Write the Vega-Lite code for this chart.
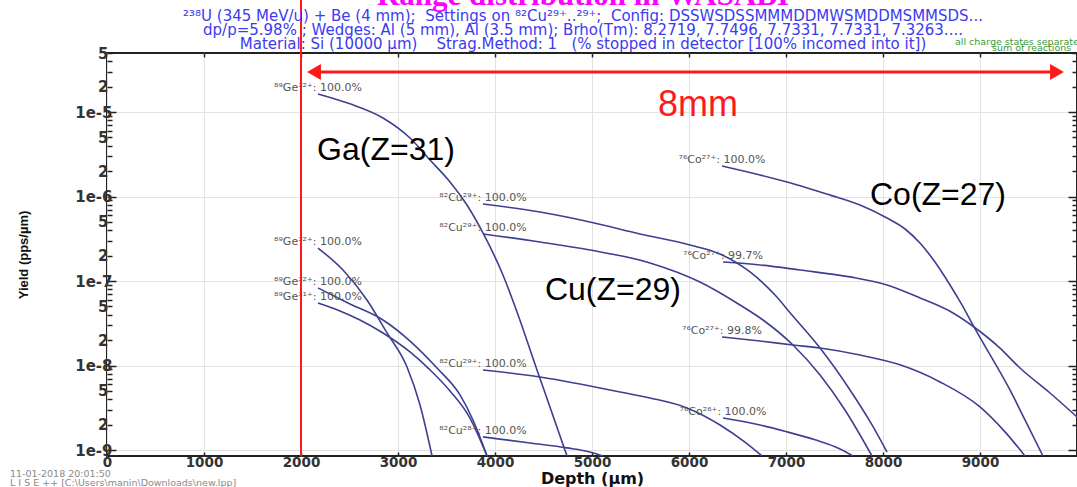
{
  "$schema": "https://vega.github.io/schema/vega-lite/v6.json",
  "width": 970,
  "height": 403,
  "autosize": {"type": "none"},
  "padding": {"left": 107, "top": 53, "right": 0, "bottom": 31},
  "background": "white",
  "title": {
    "text": "Range distribution in WASABI",
    "subtitle": [
      "²³⁸U (345 MeV/u) + Be (4 mm);\u00a0 Settings on ⁸²Cu²⁹⁺..²⁹⁺;\u00a0 Config: DSSWSDSSMMMDDMWSMDDMSMMSDS...",
      "dp/p=5.98% ; Wedges: Al (5 mm), Al (3.5 mm); Brho(Tm): 8.2719, 7.7496, 7.7331, 7.7331, 7.3263....",
      "Material: Si (10000 µm)\u00a0\u00a0\u00a0 Strag.Method: 1\u00a0\u00a0 (% stopped in detector [100% incomed into it])"
    ],
    "anchor": "middle",
    "frame": "group",
    "font": "Liberation Serif",
    "fontSize": 31,
    "fontWeight": "bold",
    "color": "#ff00ff",
    "subtitleFont": "DejaVu Sans",
    "subtitleFontSize": 15,
    "subtitleColor": "#3b3bf0",
    "subtitleLineHeight": 14,
    "subtitlePadding": -3,
    "offset": 3,
    "dx": -9,
    "dy": 80
  },
  "datasets": {
    "curves": [
      {"curve": "ge32_a", "x": 2175, "y": 1.64e-5},
      {"curve": "ge32_a", "x": 2505, "y": 1.25e-5},
      {"curve": "ge32_a", "x": 2845, "y": 8.51e-6},
      {"curve": "ge32_a", "x": 3124, "y": 4.93e-6},
      {"curve": "ge32_a", "x": 3330, "y": 2.71e-6},
      {"curve": "ge32_a", "x": 3536, "y": 1.49e-6},
      {"curve": "ge32_a", "x": 3711, "y": 7.94e-7},
      {"curve": "ge32_a", "x": 3876, "y": 3.71e-7},
      {"curve": "ge32_a", "x": 4082, "y": 1.18e-7},
      {"curve": "ge32_a", "x": 4227, "y": 4.31e-8},
      {"curve": "ge32_a", "x": 4433, "y": 8.87e-9},
      {"curve": "ge32_a", "x": 4588, "y": 2.75e-9},
      {"curve": "ge32_a", "x": 4742, "y": 8.5e-10},

      {"curve": "ge32_b", "x": 2175, "y": 2.46e-7},
      {"curve": "ge32_b", "x": 2433, "y": 1.35e-7},
      {"curve": "ge32_b", "x": 2680, "y": 5.97e-8},
      {"curve": "ge32_b", "x": 2887, "y": 2.43e-8},
      {"curve": "ge32_b", "x": 3093, "y": 9.62e-9},
      {"curve": "ge32_b", "x": 3227, "y": 3.41e-9},
      {"curve": "ge32_b", "x": 3351, "y": 8.5e-10},

      {"curve": "ge32_c", "x": 2175, "y": 8.28e-8},
      {"curve": "ge32_c", "x": 2505, "y": 5.36e-8},
      {"curve": "ge32_c", "x": 2845, "y": 3.46e-8},
      {"curve": "ge32_c", "x": 3124, "y": 1.95e-8},
      {"curve": "ge32_c", "x": 3402, "y": 9.35e-9},
      {"curve": "ge32_c", "x": 3639, "y": 4.49e-9},
      {"curve": "ge32_c", "x": 3773, "y": 2.27e-9},
      {"curve": "ge32_c", "x": 3918, "y": 8.5e-10},

      {"curve": "ge31", "x": 2175, "y": 5.5e-8},
      {"curve": "ge31", "x": 2402, "y": 4.43e-8},
      {"curve": "ge31", "x": 2608, "y": 3.46e-8},
      {"curve": "ge31", "x": 2845, "y": 2.43e-8},
      {"curve": "ge31", "x": 3124, "y": 1.45e-8},
      {"curve": "ge31", "x": 3330, "y": 8.87e-9},
      {"curve": "ge31", "x": 3536, "y": 5.0e-9},
      {"curve": "ge31", "x": 3742, "y": 2.39e-9},
      {"curve": "ge31", "x": 3918, "y": 8.5e-10},

      {"curve": "cu29_a", "x": 3876, "y": 8.17e-7},
      {"curve": "cu29_a", "x": 4464, "y": 6.56e-7},
      {"curve": "cu29_a", "x": 4979, "y": 5.0e-7},
      {"curve": "cu29_a", "x": 5495, "y": 3.61e-7},
      {"curve": "cu29_a", "x": 6010, "y": 2.67e-7},
      {"curve": "cu29_a", "x": 6320, "y": 2.09e-7},
      {"curve": "cu29_a", "x": 6629, "y": 1.28e-7},
      {"curve": "cu29_a", "x": 6887, "y": 6.84e-8},
      {"curve": "cu29_a", "x": 7062, "y": 3.96e-8},
      {"curve": "cu29_a", "x": 7351, "y": 1.61e-8},
      {"curve": "cu29_a", "x": 7660, "y": 5.14e-9},
      {"curve": "cu29_a", "x": 7887, "y": 1.98e-9},
      {"curve": "cu29_a", "x": 8041, "y": 9.48e-10},

      {"curve": "cu29_b", "x": 3876, "y": 3.61e-7},
      {"curve": "cu29_b", "x": 4464, "y": 2.9e-7},
      {"curve": "cu29_b", "x": 4979, "y": 2.33e-7},
      {"curve": "cu29_b", "x": 5598, "y": 1.64e-7},
      {"curve": "cu29_b", "x": 6113, "y": 9.75e-8},
      {"curve": "cu29_b", "x": 6526, "y": 5.21e-8},
      {"curve": "cu29_b", "x": 6763, "y": 3.46e-8},
      {"curve": "cu29_b", "x": 7072, "y": 1.75e-8},
      {"curve": "cu29_b", "x": 7351, "y": 7.73e-9},
      {"curve": "cu29_b", "x": 7608, "y": 2.98e-9},
      {"curve": "cu29_b", "x": 7887, "y": 8.5e-10},

      {"curve": "cu29_c", "x": 3876, "y": 8.87e-9},
      {"curve": "cu29_c", "x": 4464, "y": 7.33e-9},
      {"curve": "cu29_c", "x": 4979, "y": 5.73e-9},
      {"curve": "cu29_c", "x": 5289, "y": 4.86e-9},
      {"curve": "cu29_c", "x": 5598, "y": 4.13e-9},
      {"curve": "cu29_c", "x": 5979, "y": 3.15e-9},
      {"curve": "cu29_c", "x": 6320, "y": 1.98e-9},
      {"curve": "cu29_c", "x": 6577, "y": 1.24e-9},
      {"curve": "cu29_c", "x": 6753, "y": 8.5e-10},

      {"curve": "cu28", "x": 3876, "y": 1.43e-9},
      {"curve": "cu28", "x": 4361, "y": 1.21e-9},
      {"curve": "cu28", "x": 4742, "y": 1.06e-9},
      {"curve": "cu28", "x": 4979, "y": 9.48e-10},
      {"curve": "cu28", "x": 5113, "y": 8.5e-10},

      {"curve": "co27_a", "x": 6340, "y": 2.3e-6},
      {"curve": "co27_a", "x": 6732, "y": 1.8e-6},
      {"curve": "co27_a", "x": 7010, "y": 1.49e-6},
      {"curve": "co27_a", "x": 7454, "y": 1.04e-6},
      {"curve": "co27_a", "x": 7763, "y": 7.94e-7},
      {"curve": "co27_a", "x": 8041, "y": 5.57e-7},
      {"curve": "co27_a", "x": 8227, "y": 4.13e-7},
      {"curve": "co27_a", "x": 8381, "y": 2.82e-7},
      {"curve": "co27_a", "x": 8536, "y": 1.68e-7},
      {"curve": "co27_a", "x": 8691, "y": 8.98e-8},
      {"curve": "co27_a", "x": 8814, "y": 5.21e-8},
      {"curve": "co27_a", "x": 8938, "y": 2.86e-8},
      {"curve": "co27_a", "x": 9309, "y": 5.14e-9},
      {"curve": "co27_a", "x": 9464, "y": 2.27e-9},
      {"curve": "co27_a", "x": 9649, "y": 8.5e-10},

      {"curve": "co27_b", "x": 6351, "y": 1.68e-7},
      {"curve": "co27_b", "x": 6732, "y": 1.55e-7},
      {"curve": "co27_b", "x": 7144, "y": 1.35e-7},
      {"curve": "co27_b", "x": 7660, "y": 1.12e-7},
      {"curve": "co27_b", "x": 8041, "y": 8.98e-8},
      {"curve": "co27_b", "x": 8381, "y": 6.31e-8},
      {"curve": "co27_b", "x": 8722, "y": 4.19e-8},
      {"curve": "co27_b", "x": 8938, "y": 2.86e-8},
      {"curve": "co27_b", "x": 9206, "y": 1.61e-8},
      {"curve": "co27_b", "x": 9412, "y": 9.35e-9},
      {"curve": "co27_b", "x": 9722, "y": 4.73e-9},
      {"curve": "co27_b", "x": 10000, "y": 2.46e-9},

      {"curve": "co27_c", "x": 6340, "y": 2.18e-8},
      {"curve": "co27_c", "x": 6732, "y": 1.95e-8},
      {"curve": "co27_c", "x": 7072, "y": 1.75e-8},
      {"curve": "co27_c", "x": 7351, "y": 1.61e-8},
      {"curve": "co27_c", "x": 7763, "y": 1.33e-8},
      {"curve": "co27_c", "x": 8175, "y": 1.02e-8},
      {"curve": "co27_c", "x": 8588, "y": 6.4e-9},
      {"curve": "co27_c", "x": 9000, "y": 3.24e-9},
      {"curve": "co27_c", "x": 9258, "y": 1.64e-9},
      {"curve": "co27_c", "x": 9464, "y": 8.5e-10},

      {"curve": "co26", "x": 6351, "y": 2.39e-9},
      {"curve": "co26", "x": 6732, "y": 1.98e-9},
      {"curve": "co26", "x": 7010, "y": 1.64e-9},
      {"curve": "co26", "x": 7299, "y": 1.32e-9},
      {"curve": "co26", "x": 7557, "y": 1.03e-9},
      {"curve": "co26", "x": 7691, "y": 8.5e-10}
    ],
    "series": [
      {"curve": "ge32_a", "label": "⁸⁹Ge³²⁺: 100.0%"},
      {"curve": "ge32_b", "label": "⁸⁹Ge³²⁺: 100.0%"},
      {"curve": "ge32_c", "label": "⁸⁹Ge³²⁺: 100.0%"},
      {"curve": "ge31", "label": "⁸⁹Ge³¹⁺: 100.0%"},
      {"curve": "cu29_a", "label": "⁸²Cu²⁹⁺: 100.0%"},
      {"curve": "cu29_b", "label": "⁸²Cu²⁹⁺: 100.0%"},
      {"curve": "cu29_c", "label": "⁸²Cu²⁹⁺: 100.0%"},
      {"curve": "cu28", "label": "⁸²Cu²⁸⁺: 100.0%"},
      {"curve": "co27_a", "label": "⁷⁶Co²⁷⁺: 100.0%"},
      {"curve": "co27_b", "label": "⁷⁶Co²⁷⁺: 99.7%"},
      {"curve": "co27_c", "label": "⁷⁶Co²⁷⁺: 99.8%"},
      {"curve": "co26", "label": "⁷⁶Co²⁶⁺: 100.0%"}
    ],
    "notes": [
      {"text": "Ga(Z=31)", "x": 2876, "y": 3.56e-6},
      {"text": "Cu(Z=29)", "x": 5216, "y": 7.84e-8},
      {"text": "Co(Z=27)", "x": 8567, "y": 1.04e-6}
    ],
    "marker": [
      {"x": 2000, "y": 8.5e-10, "y2": 4e-4}
    ],
    "span": [
      {"left": 2134, "right": 9794, "y": 2.98e-5, "text": "8mm", "text_x": 6093, "text_y": 1.21e-5}
    ],
    "captions": [
      {"text": "11-01-2018  20:01:50", "x": -1000, "y": 4.8e-10, "tone": "stamp"},
      {"text": "L I S E ++  [C:\\Users\\manin\\Downloads\\new.lpp]", "x": -1000, "y": 3.76e-10, "tone": "stamp"},
      {"text": "all charge states separately", "x": 8742, "y": 6.22e-5, "tone": "legend"},
      {"text": "sum of reactions", "x": 9124, "y": 5.35e-5, "tone": "legend"}
    ]
  },
  "layer": [
    {
      "data": {"name": "curves"},
      "mark": {"type": "line", "interpolate": "monotone", "strokeWidth": 1.6, "color": "#3f3f92", "clip": true},
      "encoding": {
        "detail": {"field": "curve"},
        "x": {
          "field": "x", "type": "quantitative",
          "scale": {"domain": [0, 10000], "nice": false, "zero": false},
          "axis": {
            "orient": "bottom",
            "values": [0, 1000, 2000, 3000, 4000, 5000, 6000, 7000, 8000, 9000],
            "format": "d",
            "title": "Depth (µm)",
            "titleFont": "DejaVu Sans", "titleFontSize": 16, "titleFontWeight": "bold", "titleColor": "#111",
            "titlePadding": 2,
            "labelFont": "DejaVu Sans", "labelFontSize": 13.5, "labelFontWeight": "bold", "labelColor": "#333",
            "labelPadding": 3, "labelFlush": false, "labelOverlap": false,
            "tickSize": -4, "tickColor": "#222", "tickWidth": 1.5,
            "grid": true, "gridColor": "#e3e3e3", "gridWidth": 1,
            "domain": false
          }
        },
        "y": {
          "field": "y", "type": "quantitative",
          "scale": {"type": "log", "domain": [8.5e-10, 5e-5], "nice": false},
          "axis": {
            "orient": "left",
            "values": [1e-9, 2e-9, 3e-9, 4e-9, 5e-9, 6e-9, 7e-9, 8e-9, 9e-9,
                       1e-8, 2e-8, 3e-8, 4e-8, 5e-8, 6e-8, 7e-8, 8e-8, 9e-8,
                       1e-7, 2e-7, 3e-7, 4e-7, 5e-7, 6e-7, 7e-7, 8e-7, 9e-7,
                       1e-6, 2e-6, 3e-6, 4e-6, 5e-6, 6e-6, 7e-6, 8e-6, 9e-6,
                       1e-5, 2e-5, 3e-5, 4e-5, 5e-5],
            "labelExpr": "abs(datum.value / pow(10, floor(log(datum.value) / LN10 + 1e-6)) - 1) < 0.001 ? '1e' + floor(log(datum.value) / LN10 + 1e-6) : (abs(datum.value / pow(10, floor(log(datum.value) / LN10 + 1e-6)) - 2) < 0.001 ? '2' : (abs(datum.value / pow(10, floor(log(datum.value) / LN10 + 1e-6)) - 5) < 0.001 ? '5' : ''))",
            "title": "Yield (pps/µm)",
            "titleFont": "Liberation Sans", "titleFontSize": 13, "titleFontWeight": "bold", "titleColor": "#111",
            "titlePadding": 44,
            "labelFont": "DejaVu Sans", "labelFontSize": 15, "labelFontWeight": "bold", "labelColor": "#333",
            "labelPadding": 4, "labelFlush": false, "labelOverlap": false,
            "tickSize": {"condition": {"test": "abs(log(datum.value) / LN10 - round(log(datum.value) / LN10)) < 0.001", "value": -9}, "value": -5},
            "tickColor": "#222", "tickWidth": 1.5,
            "grid": true, "gridColor": "#e3e3e3", "gridWidth": 1,
            "gridOpacity": {"condition": {"test": "abs(log(datum.value) / LN10 - round(log(datum.value) / LN10)) < 0.001", "value": 1}, "value": 0},
            "domain": false
          }
        }
      }
    },
    {
      "data": {"name": "curves"},
      "transform": [
        {"window": [{"op": "row_number", "as": "rank"}], "groupby": ["curve"], "sort": [{"field": "x", "order": "ascending"}]},
        {"filter": "datum.rank === 1"},
        {"lookup": "curve", "from": {"data": {"name": "series"}, "key": "curve", "fields": ["label"]}}
      ],
      "mark": {"type": "text", "align": "center", "baseline": "alphabetic", "dy": -3, "font": "DejaVu Sans", "fontSize": 11, "color": "#555555"},
      "encoding": {
        "text": {"field": "label"},
        "x": {"field": "x", "type": "quantitative", "scale": {"domain": [0, 10000], "nice": false, "zero": false}, "axis": null},
        "y": {"field": "y", "type": "quantitative", "scale": {"type": "log", "domain": [8.5e-10, 5e-5], "nice": false}, "axis": null}
      }
    },
    {
      "data": {"name": "notes"},
      "mark": {"type": "text", "align": "center", "baseline": "middle", "font": "Liberation Sans", "fontSize": 32, "color": "#000000"},
      "encoding": {
        "text": {"field": "text"},
        "x": {"field": "x", "type": "quantitative", "scale": {"domain": [0, 10000], "nice": false, "zero": false}, "axis": null},
        "y": {"field": "y", "type": "quantitative", "scale": {"type": "log", "domain": [8.5e-10, 5e-5], "nice": false}, "axis": null}
      }
    },
    {
      "data": {"name": "marker"},
      "mark": {"type": "rule", "color": "#ff1a1a", "strokeWidth": 2},
      "encoding": {
        "x": {
          "field": "x", "type": "quantitative",
          "scale": {"domain": [0, 10000], "nice": false, "zero": false},
          "axis": {
            "orient": "top", "values": [1000, 2000, 3000, 4000, 5000, 6000, 7000, 8000, 9000],
            "labels": false, "title": null, "grid": false, "domain": false,
            "tickSize": -4, "tickColor": "#222", "tickWidth": 1.5
          }
        },
        "y": {
          "field": "y", "type": "quantitative",
          "scale": {"type": "log", "domain": [8.5e-10, 5e-5], "nice": false},
          "axis": {
            "orient": "right",
            "values": [1e-9, 2e-9, 3e-9, 4e-9, 5e-9, 6e-9, 7e-9, 8e-9, 9e-9,
                       1e-8, 2e-8, 3e-8, 4e-8, 5e-8, 6e-8, 7e-8, 8e-8, 9e-8,
                       1e-7, 2e-7, 3e-7, 4e-7, 5e-7, 6e-7, 7e-7, 8e-7, 9e-7,
                       1e-6, 2e-6, 3e-6, 4e-6, 5e-6, 6e-6, 7e-6, 8e-6, 9e-6,
                       1e-5, 2e-5, 3e-5, 4e-5, 5e-5],
            "labels": false, "title": null, "grid": false, "domain": false,
            "tickSize": {"condition": {"test": "abs(log(datum.value) / LN10 - round(log(datum.value) / LN10)) < 0.001", "value": -9}, "value": -5},
            "tickColor": "#222", "tickWidth": 1.5
          }
        },
        "y2": {"field": "y2"}
      }
    },
    {
      "data": {"name": "span"},
      "mark": {"type": "rule", "color": "#ff1a1a", "strokeWidth": 3},
      "encoding": {
        "x": {"field": "left", "type": "quantitative", "scale": {"domain": [0, 10000], "nice": false, "zero": false}, "axis": null},
        "x2": {"field": "right"},
        "y": {"field": "y", "type": "quantitative", "scale": {"type": "log", "domain": [8.5e-10, 5e-5], "nice": false}, "axis": null}
      }
    },
    {
      "data": {"name": "span"},
      "mark": {"type": "point", "shape": "triangle-left", "filled": true, "size": 256, "color": "#ff1a1a", "opacity": 1},
      "encoding": {
        "x": {"field": "left", "type": "quantitative", "scale": {"domain": [0, 10000], "nice": false, "zero": false}, "axis": null},
        "y": {"field": "y", "type": "quantitative", "scale": {"type": "log", "domain": [8.5e-10, 5e-5], "nice": false}, "axis": null}
      }
    },
    {
      "data": {"name": "span"},
      "mark": {"type": "point", "shape": "triangle-right", "filled": true, "size": 256, "color": "#ff1a1a", "opacity": 1},
      "encoding": {
        "x": {"field": "right", "type": "quantitative", "scale": {"domain": [0, 10000], "nice": false, "zero": false}, "axis": null},
        "y": {"field": "y", "type": "quantitative", "scale": {"type": "log", "domain": [8.5e-10, 5e-5], "nice": false}, "axis": null}
      }
    },
    {
      "data": {"name": "span"},
      "mark": {"type": "text", "align": "center", "baseline": "middle", "font": "Liberation Sans", "fontSize": 36, "color": "#ff1a1a"},
      "encoding": {
        "text": {"field": "text"},
        "x": {"field": "text_x", "type": "quantitative", "scale": {"domain": [0, 10000], "nice": false, "zero": false}, "axis": null},
        "y": {"field": "text_y", "type": "quantitative", "scale": {"type": "log", "domain": [8.5e-10, 5e-5], "nice": false}, "axis": null}
      }
    },
    {
      "data": {"name": "captions"},
      "mark": {"type": "text", "align": "left", "baseline": "alphabetic", "font": "DejaVu Sans", "fontSize": 9.5},
      "encoding": {
        "text": {"field": "text"},
        "color": {"field": "tone", "type": "nominal", "scale": {"domain": ["stamp", "legend"], "range": ["#8a8a8a", "#3a9a3a"]}, "legend": null},
        "x": {"field": "x", "type": "quantitative", "scale": {"domain": [0, 10000], "nice": false, "zero": false}, "axis": null},
        "y": {"field": "y", "type": "quantitative", "scale": {"type": "log", "domain": [8.5e-10, 5e-5], "nice": false}, "axis": null}
      }
    }
  ],
  "resolve": {"axis": {"x": "independent", "y": "independent"}},
  "config": {
    "view": {"stroke": "#222222", "strokeWidth": 2}
  }
}
